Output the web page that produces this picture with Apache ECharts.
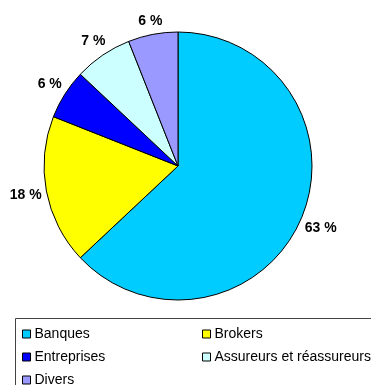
<!DOCTYPE html>
<html>
<head>
<meta charset="utf-8">
<style>
  html, body { margin: 0; padding: 0; background: #fff; }
  #chart { width: 371px; height: 385px; }
</style>
<script src="https://cdn.jsdelivr.net/npm/echarts@6/dist/echarts.min.js"></script>
</head>
<body>
<div id="chart"></div>
<script>
// Répartition par type de contrepartie (%)
const categories = ['Banques', 'Brokers', 'Entreprises', 'Assureurs et réassureurs', 'Divers'];
const shares = [63, 18, 6, 7, 6];
const colors = ['#00CCFF', '#FFFF00', '#0000FF', '#CCFFFF', '#9999FF'];

const font = 'Arial, "Liberation Sans", sans-serif';

// pie geometry
const CX = 178, CY = 166, R = 134;
const LABEL_GAP = 4;

// legend grid: two columns, three rows
const legendCols = [22, 202];
const legendRows = [327, 350, 373];

const legends = categories.map((name, i) => ({
  data: [name],
  left: legendCols[i % 2],
  top: legendRows[Math.floor(i / 2)],
  padding: 0,
  itemWidth: 8,
  itemHeight: 8,
  itemGap: 0,
  icon: 'rect',
  selectedMode: false,
  itemStyle: { borderColor: '#000', borderWidth: 1 },
  textStyle: { fontFamily: font, fontSize: 14, color: '#000', padding: [0, 0, 0, -1] }
}));

// mid-angle direction of each slice (clockwise from 12 o'clock)
const total = shares.reduce((a, b) => a + b, 0);
const midDirs = [];
let acc = 0;
shares.forEach(v => {
  const a = (acc + v / 2) / total * 2 * Math.PI;
  midDirs.push([Math.sin(a), -Math.cos(a)]);
  acc += v;
});

// keep each label box just clear of the rim, along its slice's mid-angle
function placeLabel(params) {
  const [dx, dy] = midDirs[params.dataIndex];
  const hw = params.labelRect.width / 2;
  const hh = params.labelRect.height / 2;
  const d = R + LABEL_GAP + Math.abs(hw * dx) + Math.abs(hh * dy);
  return { x: CX + d * dx, y: CY + d * dy, align: 'center', verticalAlign: 'middle' };
}

const chart = echarts.init(document.getElementById('chart'), null, { renderer: 'canvas' });
chart.setOption({
  animation: false,
  backgroundColor: '#fff',
  color: colors,
  legend: legends,
  graphic: [{
    type: 'rect',
    shape: { x: 15.5, y: 318.5, width: 400, height: 100 },
    style: { fill: 'none', stroke: '#444', lineWidth: 1 },
    z: 0
  }],
  series: [{
    type: 'pie',
    center: [CX, CY],
    radius: R,
    startAngle: 90,
    clockwise: true,
    avoidLabelOverlap: false,
    itemStyle: { borderColor: '#000', borderWidth: 1 },
    emphasis: { disabled: true },
    label: {
      show: true,
      position: 'outside',
      formatter: p => p.value + ' %',
      fontFamily: font,
      fontSize: 14,
      fontWeight: 'bold',
      color: '#000'
    },
    labelLine: { show: false },
    labelLayout: placeLabel,
    data: categories.map((name, i) => ({ name, value: shares[i] }))
  }]
});
</script>
</body>
</html>
